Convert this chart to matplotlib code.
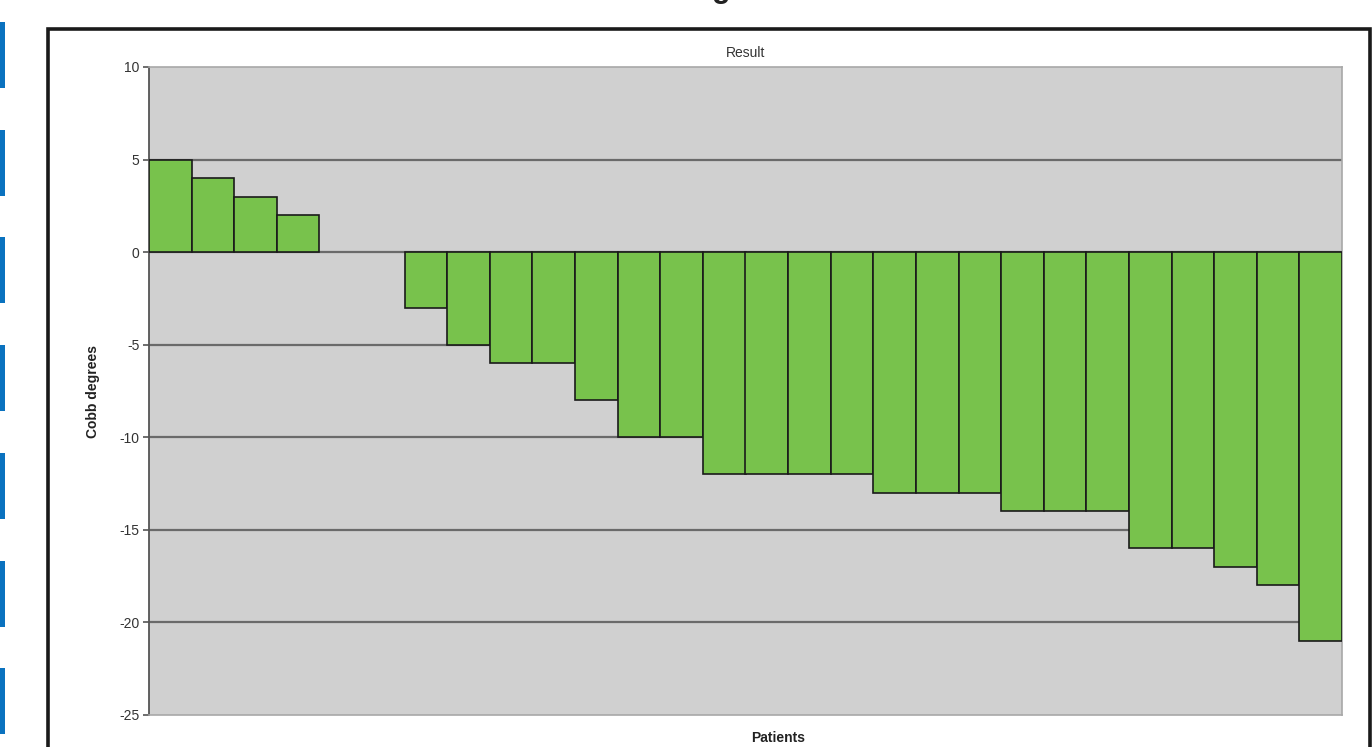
import matplotlib.pyplot as plt
import matplotlib.patches as mpatches
import numpy as np

plt.rcParams['font.family'] = ['Liberation Sans', 'DejaVu Sans']

# Change in Cobb angle per patient, sorted
patients = np.arange(1, 29)
cobb_change = [5, 4, 3, 2, 0, 0, -3, -5, -6, -6, -8, -10, -10, -12, -12, -12,
               -12, -13, -13, -13, -14, -14, -14, -16, -16, -17, -18, -21]
y_ticks = [10, 5, 0, -5, -10, -15, -20, -25]

W, H = 1372, 747
fig = plt.figure(figsize=(W / 100, H / 100), dpi=100)


def fx(px):
    return px / W


def fy(py):
    return 1 - py / H


# blue page margin markers on the far left
for i in range(7):
    top = 22 + i * 107.7
    fig.patches.append(mpatches.Rectangle((0, fy(top + 66)), fx(5), 66 / H,
                                          transform=fig.transFigure,
                                          facecolor='#0a72bf', edgecolor='none'))

# black frame around the chart
fig.patches.append(mpatches.Rectangle((fx(48), fy(760)), fx(1370 - 48), (760 - 29) / H,
                                      transform=fig.transFigure, fill=False,
                                      edgecolor='#1a1a1a', linewidth=2.6))

# descender of the heading above the frame
fig.text(fx(721), 1 + 2.5 / H, 'g', fontsize=22, fontweight='bold', ha='center',
         va='baseline', color='#222222')

ax = fig.add_axes([fx(149), fy(715), fx(1342 - 149), (715 - 67) / H])
ax.set_facecolor('#d0d0d0')

edge = ['#1a1a1a' if v != 0 else 'none' for v in cobb_change]
ax.bar(patients, cobb_change, width=1.0, color='#78c24c', edgecolor=edge,
       linewidth=1.2, zorder=3)

ax.set_xlim(0.5, 28.5)
ax.set_ylim(-25, 10)
ax.set_yticks(y_ticks)
ax.set_yticklabels([str(t) for t in y_ticks], fontsize=10, color='#333333')
ax.set_xticks([])
for t in y_ticks[1:-1]:
    ax.axhline(t, color='#6a6a6a', linewidth=1.6, zorder=2)

ax.tick_params(axis='y', length=4, width=1.2, color='#555555', pad=3)
ax.spines['left'].set_color('#555555')
ax.spines['left'].set_linewidth(1.3)
for s in ['top', 'bottom', 'right']:
    ax.spines[s].set_color('#a8a8a8')
    ax.spines[s].set_linewidth(1.2)

ax.set_title('Result', fontsize=10, color='#333333', pad=7)
ax.set_ylabel('Cobb degrees', fontsize=10, fontweight='bold', color='#222222',
              labelpad=14)
fig.text(fx(778), fy(738), 'Patients', fontsize=10, fontweight='bold',
         color='#222222', ha='center', va='center')

fig.savefig('out.png', dpi=100)
